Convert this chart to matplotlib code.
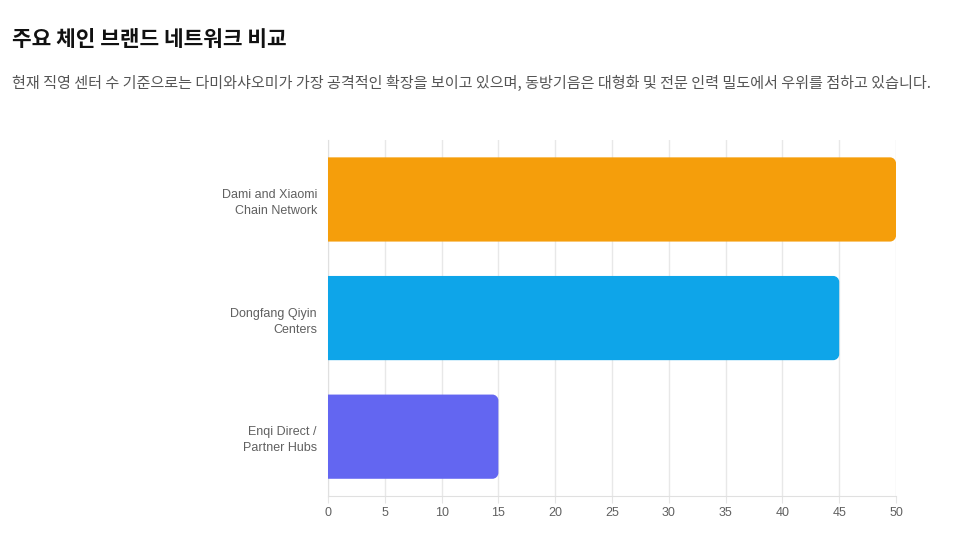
import matplotlib.pyplot as plt
from matplotlib.patches import PathPatch
from matplotlib.path import Path

plt.rcParams['font.family'] = ['Liberation Sans', 'DejaVu Sans']

categories = ["Dami and Xiaomi\nChain Network", "Dongfang Qiyin\nCenters", "Enqi Direct /\nPartner Hubs"]
values = [50, 45, 15]
colors = ["#F59E0B", "#0EA5E9", "#6366F1"]
xticks = [0, 5, 10, 15, 20, 25, 30, 35, 40, 45, 50]

title = "주요 체인 브랜드 네트워크 비교"
subtitle = "현재 직영 센터 수 기준으로는 다미와샤오미가 가장 공격적인 확장을 보이고 있으며, 동방기음은 대형화 및 전문 인력 밀도에서 우위를 점하고 있습니다."


def right_round_bar(x0, y0, w, h, rx, ry):
    # bar with rounded right corners, radius given in data units per axis
    k = 0.5523
    x1 = x0 + w
    y1 = y0 + h
    verts = [(x0, y0), (x1 - rx, y0),
             (x1 - rx + k * rx, y0), (x1, y0 + ry - k * ry), (x1, y0 + ry),
             (x1, y1 - ry),
             (x1, y1 - ry + k * ry), (x1 - rx + k * rx, y1), (x1 - rx, y1),
             (x0, y1), (x0, y0)]
    codes = [Path.MOVETO, Path.LINETO,
             Path.CURVE4, Path.CURVE4, Path.CURVE4,
             Path.LINETO,
             Path.CURVE4, Path.CURVE4, Path.CURVE4,
             Path.LINETO, Path.CLOSEPOLY]
    return Path(verts, codes)


fig = plt.figure(figsize=(9.75, 5.37), dpi=100)
ax = fig.add_axes([0.3364, 0.0764, 0.919 - 0.3364, 0.739 - 0.0764])

kr = ['Noto Sans CJK KR', 'DejaVu Sans']
fig.text(12 / 975, 1 - 40 / 537, title, family=kr, fontsize=15.4, fontweight='bold',
         color='#111111', va='center', ha='left')
fig.text(12 / 975, 1 - 83 / 537, subtitle, family=kr, fontsize=10.9,
         color='#555555', va='center', ha='left')

h = 0.71
# px per data unit: x ~11.36, y ~118 -> radius ~6px
rx = 6 / 11.36
ry = 6 / 118
for i, (v, c) in enumerate(zip(values, colors)):
    p = right_round_bar(0, i - h / 2, v, h, rx, ry)
    ax.add_patch(PathPatch(p, facecolor=c, edgecolor='none', zorder=3))

ax.set_xlim(0, 50)
ax.set_ylim(2.5, -0.5)
ax.set_xticks(xticks)
ax.set_yticks(range(len(categories)))
ax.set_yticklabels(categories, fontsize=9, color='#606060', linespacing=1.45)
ax.tick_params(axis='x', labelsize=9, labelcolor='#606060', color='#e5e5e5', length=5, pad=3)
ax.tick_params(axis='y', length=0, pad=8)
ax.grid(axis='x', color='#e8e8e8', linewidth=1, zorder=0)
for s in ['top', 'right']:
    ax.spines[s].set_visible(False)
ax.spines['left'].set_color('#e0e0e0')
ax.spines['bottom'].set_color('#e0e0e0')
ax.set_axisbelow(True)

fig.savefig('out.png', dpi=100)
